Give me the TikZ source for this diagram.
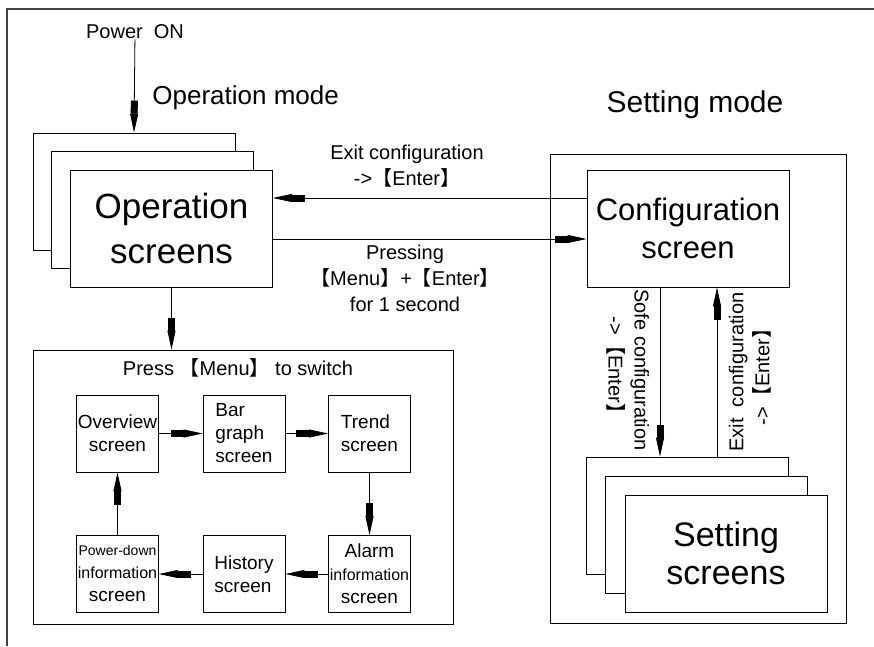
\documentclass[tikz,border=0pt]{standalone}
\usepackage{fontspec}
\setmainfont{Liberation Sans}
\newfontfamily\cjkfont{Noto Sans CJK SC}
\usetikzlibrary{arrows.meta}
\newcommand{\lbrk}{{\cjkfont 【}}
\newcommand{\rbrk}{{\cjkfont 】}}
\newcommand{\fsz}[2]{\fontsize{#1}{#2}\selectfont}
\newcommand{\scrw}{202pt}
\newcommand{\scrh}{117pt}
\newcommand{\sbxw}{82pt}
\newcommand{\sbxh}{77pt}
\newcommand{\colxa}{117.5}
\newcommand{\colxb}{244}
\newcommand{\colxc}{369.5}
\newcommand{\rowya}{433.5}
\newcommand{\rowyb}{574}

\begin{document}
\begin{tikzpicture}[x=1pt,y=-1pt,line width=0.8pt,
    scr/.style={draw,fill=white,minimum width=\scrw,minimum height=\scrh,
      inner sep=0pt,align=center},
    sbx/.style={draw,minimum width=\sbxw,minimum height=\sbxh,
      inner sep=0pt,font=\fsz{19}{23}},
    lbl/.style={font=\fsz{20}{26},align=center,inner sep=0pt},
    arr/.style={-{Rectangle[length=13pt,width=7pt]%
      Triangle[length=19pt,width=8pt]}}]
    \useasboundingbox (0,0) rectangle (874,646);
    \draw[line width=1.6pt,black!75] (7,646) -- (7,9) -- (874,9);

    \node[lbl] (pwr) at (135,32) {Power~ ON};
    \node[font=\fsz{26}{30},anchor=west,inner sep=0pt] (opmode) at (152,98)
      {Operation mode};
    \node[font=\fsz{30}{34},inner sep=0pt] (setmode) at (695,105)
      {Setting mode};

    \node[scr] (opa) at (134,191.5) {};
    \node[scr] (opb) at (152.5,210) {};
    \node[scr,font=\fsz{35}{45}] (opc) at (171.5,228.5) {Operation\\screens};

    \node[draw,minimum width=296pt,minimum height=469pt] (setfr)
      at (698,388.5) {};
    \node[scr,font=\fsz{31}{38}] (cfg) at (688,228.5)
      {Configuration\\screen};
    \node[scr] (seta) at (687.5,515.5) {};
    \node[scr] (setb) at (706.5,534.5) {};
    \node[scr,font=\fsz{34}{38}] (setc) at (726,553.5) {Setting\\screens};

    \node[draw,minimum width=420pt,minimum height=274pt] (press)
      at (243,487) {};
    \node[lbl] (presst) at (238,368) {Press \lbrk Menu\rbrk\ to switch};

    \node[sbx,align=center] (ov) at (\colxa,\rowya) {Overview\\screen};
    \node[sbx,align=left] (bar) at (\colxb,\rowya) {Bar\\graph\\screen};
    \node[sbx,align=left] (trd) at (\colxc,\rowya) {Trend\\screen};
    \node[sbx,align=center] (alm) at (\colxc,\rowyb)
      {Alarm\\{\fsz{16}{22}information}\\screen};
    \node[sbx,align=left] (hst) at (\colxb,\rowyb) {History\\screen};
    \node[sbx,align=center] (pwd) at (\colxa,\rowyb)
      {{\fsz{14}{19}Power-down}\\{\fsz{16}{21}information}\\screen};

    \draw[arr] (pwr) -- (opa.north);
    \draw[arr] (opc.south) -- (opc.south |- press.north);
    \draw[arr] ([yshift=30.5pt]cfg.west) -- ([yshift=30.5pt]opc.east);
    \draw[arr] ([yshift=-10.5pt]opc.east) -- ([yshift=-10.5pt]cfg.west);
    \draw[arr] ([xshift=-28pt]cfg.south) -- ([xshift=-27.5pt]seta.north);
    \draw[arr] ([xshift=29.5pt]seta.north) -- ([xshift=29pt]cfg.south);

    \draw[arr] (ov) -- (bar);
    \draw[arr] (bar) -- (trd);
    \draw[arr] (trd) -- (alm);
    \draw[arr] (alm) -- (hst);
    \draw[arr] (hst) -- (pwd);
    \draw[arr] (pwd) -- (ov);

    \node[lbl] (exitl) at (407,166.5)
      {Exit configuration\\->\lbrk Enter\rbrk};
    \node[lbl] (pressl) at (405,278)
      {Pressing\\\lbrk Menu\rbrk+\lbrk Enter\rbrk\\for 1 second};
    \node[lbl,rotate=-90] (sofel) at (628,370)
      {Sofe configuration\\->\lbrk Enter\rbrk};
    \node[lbl,rotate=90] (exitv) at (750,372)
      {Exit~ configuration\\->\lbrk Enter\rbrk};
\end{tikzpicture}
\end{document}
